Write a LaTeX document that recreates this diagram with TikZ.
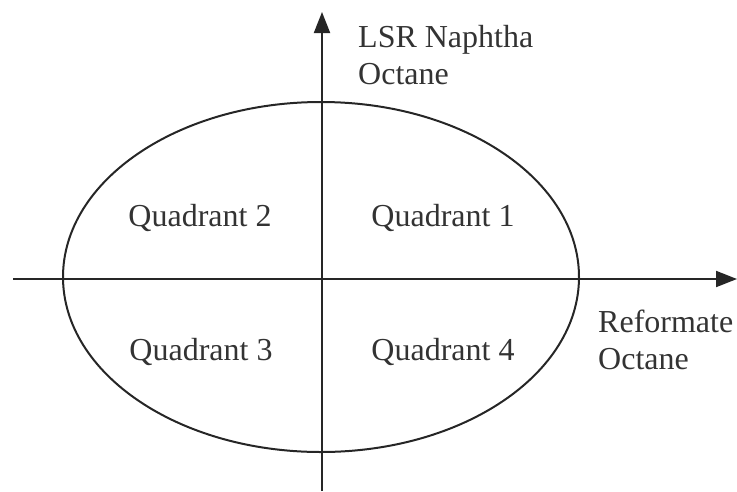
\documentclass[tikz,border=0pt]{standalone}
\usepackage{fontspec}
\setmainfont{Liberation Serif}
\usetikzlibrary{arrows.meta, positioning}

\begin{document}
\begin{tikzpicture}[
    x = 1pt, y = -1pt,
    >=Latex,
    font = \fontsize{32}{37}\selectfont,
    axis/.style={
      draw = black!85,
      line width = 2pt,
      -{Triangle[length = 21pt, width = 16pt]},
    },
    oval/.style={
      draw = black!85,
      line width = 2pt,
    },
    lbl/.style={
      text = black!80,
      inner sep = 0pt,
      align = left,
    },
  ]
  \useasboundingbox (0,0) rectangle (737,491);
  \coordinate (o) at (321,277);
  \coordinate (xs) at (13,279);
  \coordinate (xe) at (737,279);
  \coordinate (ys) at (322,491);
  \coordinate (ye) at (322,12);
  \draw[oval] (o) ellipse [x radius = 258, y radius = 175];
  \draw[axis] (xs) -- (xe);
  \draw[axis] (ys) -- (ye);
  \node[lbl, anchor = west] (yname) at (358,55) {LSR Naphtha\\Octane};
  \node[lbl, anchor = west] (xname) at (598,340) {Reformate\\Octane};
  \node[lbl] (q2) at (200,218) {Quadrant 2};
  \node[lbl] (q1) at (443,218) {Quadrant 1};
  \node[lbl] (q3) at (201,352) {Quadrant 3};
  \node[lbl] (q4) at (443,352) {Quadrant 4};
\end{tikzpicture}
\end{document}
